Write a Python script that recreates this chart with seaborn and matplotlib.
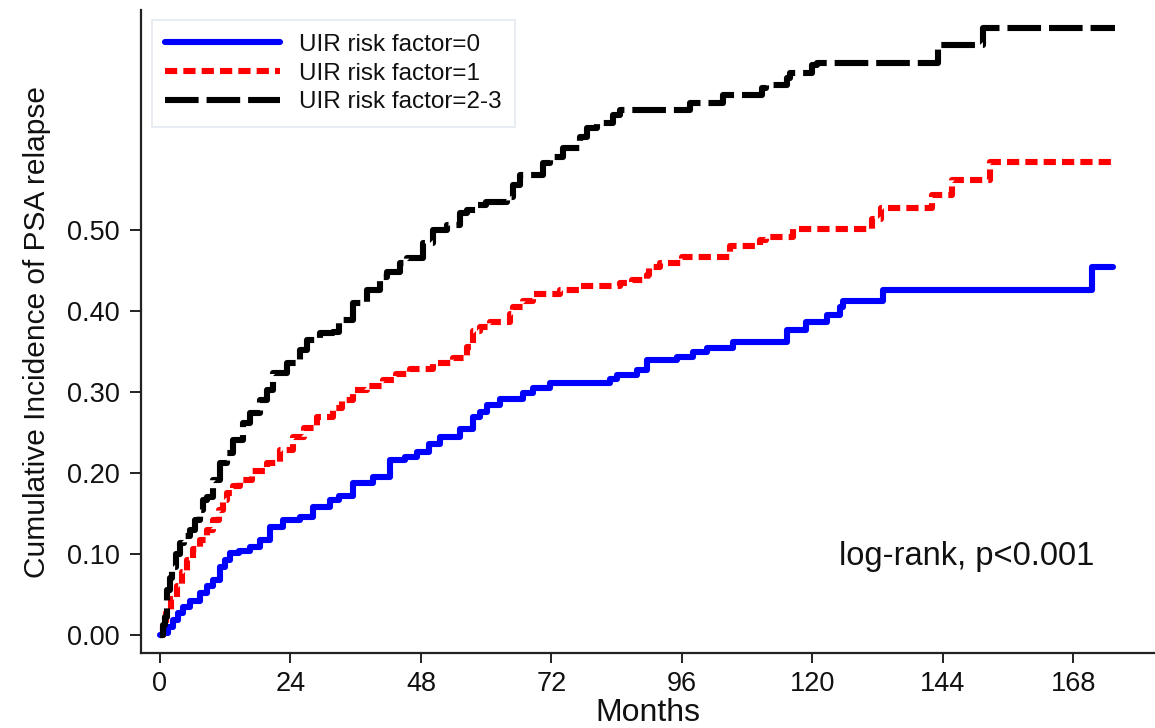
import numpy as np
import pandas as pd
import matplotlib
matplotlib.use("Agg")
import matplotlib.pyplot as plt
import seaborn as sns

# ---- data (months, cumulative incidence) ----
t0 = [0, 0.6, 1.5, 2.4, 3.3, 4.3, 5.5, 7.4, 8.6, 9.8, 11, 12, 12.9, 14.5, 16.5,
      18.4, 20.2, 22.6, 25.7, 28.1, 31.2, 33, 35.5, 39.2, 42.3, 45, 47.2, 49.5,
      51.5, 55.1, 57.5, 58.8, 60.1, 62.5, 66.7, 68.6, 71.7, 82.7, 84, 87.7, 89.5,
      95, 98, 100.6, 105.3, 115.3, 118.9, 122.6, 125, 125.6, 132.9, 171.5, 175.2]
v0 = [0, 0.002, 0.01, 0.018, 0.027, 0.035, 0.042, 0.052, 0.06, 0.068, 0.084,
      0.093, 0.101, 0.104, 0.109, 0.117, 0.133, 0.142, 0.146, 0.158, 0.167, 0.172,
      0.188, 0.195, 0.216, 0.22, 0.226, 0.236, 0.244, 0.255, 0.269, 0.275, 0.284,
      0.291, 0.299, 0.305, 0.311, 0.316, 0.321, 0.327, 0.34, 0.343, 0.349, 0.355,
      0.362, 0.377, 0.386, 0.395, 0.405, 0.413, 0.426, 0.454, 0.454]

t1 = [0, 0.6, 1.2, 2, 3.1, 4, 4.9, 6, 7.4, 8.6, 9.8, 10.8, 11.6, 12.3, 13.5, 14.7,
      17, 19.6, 22, 24.5, 26.5, 28.8, 31.8, 33.5, 35.5, 38, 41, 43.5, 46, 50.2,
      53.9, 56.4, 57.5, 58.8, 60.7, 64.3, 65, 66.7, 68.6, 73.5, 77.2, 84.6, 86.9,
      89.5, 90, 91.9, 96.1, 104.8, 110.3, 111.5, 116.4, 130.9, 132.7, 141.9,
      145.6, 152.6, 175.5]
v1 = [0, 0.01, 0.027, 0.045, 0.06, 0.078, 0.093, 0.106, 0.117, 0.13, 0.142, 0.155,
      0.167, 0.175, 0.184, 0.191, 0.202, 0.212, 0.228, 0.244, 0.256, 0.269, 0.28,
      0.29, 0.302, 0.308, 0.315, 0.322, 0.328, 0.336, 0.342, 0.356, 0.376, 0.38,
      0.386, 0.397, 0.405, 0.413, 0.421, 0.426, 0.431, 0.435, 0.438, 0.444, 0.454,
      0.459, 0.467, 0.481, 0.488, 0.492, 0.501, 0.514, 0.527, 0.543, 0.562, 0.584,
      0.584]

t2 = [0, 0.5, 0.9, 1.3, 1.8, 2.2, 3, 3.7, 4.5, 5.5, 6.5, 7.4, 7.9, 8.6, 9.8, 11,
      12.3, 13.4, 15.3, 16.5, 18.4, 19.6, 20.8, 23.3, 25.7, 27, 29.4, 31.8, 33,
      35.5, 38, 40.4, 41.7, 44.1, 45.4, 48.3, 50.2, 52.8, 55.1, 56.4, 58.3, 60,
      63.8, 65, 66.2, 68.6, 70.4, 71.7, 74.1, 77.2, 78.5, 80.3, 83.3, 84.6, 97.4,
      103.5, 110.8, 111.5, 115.3, 115.8, 119.9, 120.8, 143, 151.3, 175.6]
v2 = [0, 0.012, 0.022, 0.055, 0.07, 0.084, 0.1, 0.114, 0.122, 0.13, 0.142, 0.154,
      0.167, 0.17, 0.191, 0.212, 0.225, 0.241, 0.262, 0.274, 0.29, 0.302, 0.323,
      0.336, 0.352, 0.364, 0.373, 0.374, 0.389, 0.41, 0.426, 0.442, 0.448, 0.459,
      0.465, 0.484, 0.5, 0.506, 0.521, 0.525, 0.531, 0.535, 0.541, 0.556, 0.568,
      0.568, 0.583, 0.59, 0.602, 0.615, 0.626, 0.632, 0.642, 0.648, 0.657, 0.667,
      0.675, 0.679, 0.688, 0.694, 0.704, 0.707, 0.728, 0.75, 0.75]

labels = ["UIR risk factor=0", "UIR risk factor=1", "UIR risk factor=2-3"]
x_ticks = [0, 24, 48, 72, 96, 120, 144, 168]
y_ticks = [0.0, 0.1, 0.2, 0.3, 0.4, 0.5]
annotation = "log-rank, p<0.001"

df = pd.concat([
    pd.DataFrame({"Months": t0, "CI": v0, "group": labels[0]}),
    pd.DataFrame({"Months": t1, "CI": v1, "group": labels[1]}),
    pd.DataFrame({"Months": t2, "CI": v2, "group": labels[2]}),
], ignore_index=True)

sns.set_style("ticks")
plt.rcParams["font.family"] = ["Liberation Sans", "DejaVu Sans"]

fig = plt.figure(figsize=(11.55, 7.28), dpi=100)
ax = fig.add_axes([0.122, 0.103, 0.878, 0.883])

palette = {labels[0]: "#0000ff", labels[1]: "#ff0000", labels[2]: "#000000"}
dashes = {labels[0]: "", labels[1]: (2, 1), labels[2]: (5.5, 1.3)}

sns.lineplot(data=df, x="Months", y="CI", hue="group", style="group",
             hue_order=labels, style_order=labels, palette=palette,
             dashes=dashes, drawstyle="steps-post", linewidth=4.4,
             estimator=None, errorbar=None, legend=False, ax=ax)

ax.set_xlim(-3.5, 183)
ax.set_ylim(-0.0222, 0.7716)
ax.set_xticks(x_ticks)
ax.set_xticklabels([str(v) for v in x_ticks])
ax.set_yticks(y_ticks)
ax.set_yticklabels([f"{v:.2f}" for v in y_ticks])

for s in ["top", "right"]:
    ax.spines[s].set_visible(False)
for s in ["left", "bottom"]:
    ax.spines[s].set_linewidth(1.6)
    ax.spines[s].set_color("#222222")

ax.tick_params(axis="both", colors="#222222", labelcolor="#111111",
               labelsize=19.5, width=1.4, direction="out")
ax.tick_params(axis="y", length=8, pad=7)
ax.tick_params(axis="x", length=7, pad=6)

ax.set_xlabel("Months", fontsize=23, color="#111111", labelpad=1)
ax.set_ylabel("Cumulative Incidence of PSA relapse", fontsize=21.5,
              color="#111111", labelpad=12)

ax.text(148.3, 0.086, annotation, fontsize=23.5, color="#111111",
        ha="center", va="baseline")

leg = ax.legend(handles=ax.lines[:3], labels=labels, loc="upper left",
                bbox_to_anchor=(0.011, 0.984), fontsize=17.5,
                handlelength=4.7, handletextpad=0.8, labelspacing=0.28,
                borderpad=0.55, borderaxespad=0, frameon=True,
                fancybox=False, framealpha=1)
leg.get_frame().set_edgecolor("#e4eaf2")
leg.get_frame().set_linewidth(1.2)
for txt in leg.get_texts():
    txt.set_color("#111111")

fig.savefig("out.png", dpi=100)
